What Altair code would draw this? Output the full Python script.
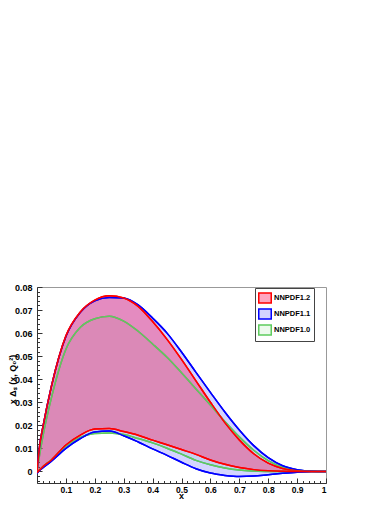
import altair as alt
import pandas as pd

# ---- data ----
x_vals = [0.0, 0.01, 0.02, 0.05, 0.1, 0.15, 0.2, 0.25, 0.3, 0.35, 0.4, 0.45,
          0.5, 0.55, 0.6, 0.65, 0.7, 0.75, 0.8, 0.85, 0.9, 0.95, 1.0]

red_hi = [0.0, 0.012, 0.019, 0.037, 0.0588, 0.0692, 0.0743, 0.0762, 0.0752, 0.0716, 0.0650, 0.0573,
          0.0486, 0.0393, 0.0300, 0.0212, 0.0137, 0.0077, 0.0036, 0.0013, 0.0003, 0.0, 0.0]
red_lo = [-0.0005, 0.0008, 0.0020, 0.0050, 0.0115, 0.0158, 0.0184, 0.0186, 0.0173, 0.0157, 0.0136, 0.0116,
          0.0095, 0.0074, 0.0050, 0.0031, 0.0017, 0.0008, 0.0003, 0.0001, 0.0, 0.0, 0.0]

blue_hi = [0.0, 0.012, 0.019, 0.037, 0.0585, 0.0690, 0.0740, 0.0755, 0.0752, 0.0722, 0.0665, 0.0600,
           0.0518, 0.0430, 0.0343, 0.0258, 0.0180, 0.0112, 0.0060, 0.0025, 0.0008, 0.0001, 0.0]
blue_lo = [-0.0008, 0.0005, 0.0015, 0.0045, 0.0100, 0.0143, 0.0171, 0.0175, 0.0155, 0.0128, 0.0098, 0.0070,
           0.0040, 0.0012, -0.0007, -0.0017, -0.0022, -0.0020, -0.0014, -0.0008, -0.0003, 0.0, 0.0]

green_hi = [0.0, 0.008, 0.015, 0.032, 0.053, 0.0625, 0.0662, 0.0673, 0.0652, 0.0608, 0.0553, 0.0495,
            0.0428, 0.0358, 0.0288, 0.0217, 0.0150, 0.0092, 0.0047, 0.0018, 0.0005, 0.0001, 0.0]
green_lo = [-0.0005, 0.0008, 0.0020, 0.0050, 0.0110, 0.0148, 0.0165, 0.0167, 0.0160, 0.0143, 0.0124, 0.0101,
            0.0075, 0.0048, 0.0029, 0.0015, 0.0006, 0.0002, 0.0, 0.0, 0.0, 0.0, 0.0]

sets = ["NNPDF1.2", "NNPDF1.1", "NNPDF1.0"]
line_colors = ["#ff0000", "#0000ff", "#5ecb5e"]
fill_colors = ["rgba(255,20,90,0.38)", "rgba(0,0,255,0.17)", "rgba(0,190,0,0.07)"]

x_major = [0.1, 0.2, 0.3, 0.4, 0.5, 0.6, 0.7, 0.8, 0.9, 1.0]
x_minor = [round(i * 0.02, 2) for i in range(1, 50) if i % 5 != 0]
y_major = [0.0, 0.01, 0.02, 0.03, 0.04, 0.05, 0.06, 0.07, 0.08]
y_minor = [round(i * 0.002, 3) for i in range(-2, 40) if i % 5 != 0]

rows = []
for name, hi, lo in [("NNPDF1.0", green_hi, green_lo),
                     ("NNPDF1.1", blue_hi, blue_lo),
                     ("NNPDF1.2", red_hi, red_lo)]:
    for xv, h, l in zip(x_vals, hi, lo):
        rows.append({"x": xv, "set": name, "hi": h, "lo": l})
df = pd.DataFrame(rows)

FONT = "Liberation Sans"
xs = alt.Scale(domain=[0, 1], nice=False, zero=False)
ys = alt.Scale(domain=[-0.005, 0.08], nice=False, zero=False)
fill_scale = alt.Scale(domain=sets, range=fill_colors)
stroke_scale = alt.Scale(domain=sets, range=line_colors)

nbsp = "\u00a0" * 10
leg = alt.Legend(
    title=None, orient="none", legendX=218, legendY=1,
    symbolType="M-1,-0.8H1V0.8H-1Z", symbolSize=156, symbolStrokeWidth=1.5,
    labelFont=FONT, labelFontWeight="bold", labelFontSize=7.5, labelColor="black",
    labelOffset=2, padding=3, rowPadding=0,
    strokeColor="#444", fillColor="white",
    labelExpr="datum.label + '" + nbsp + "'",
)

base = alt.Chart(df)

areas = base.mark_area(interpolate="monotone", strokeWidth=1.5, clip=True).encode(
    x=alt.X("x:Q", scale=xs, axis=alt.Axis(
        orient="bottom", values=x_major, format="~g", ticks=False, labelPadding=2,
        labelFontSize=8.5,
        title="x", titleX=144, titleY=15, titleBaseline="alphabetic", titleAlign="center")),
    y=alt.Y("hi:Q", scale=ys, axis=alt.Axis(
        orient="left", values=y_major, format="~g", ticks=False, labelPadding=5,
        title="x Δₛ (x, Q₀²)", titleX=-25, titleY=92, titleAngle=270,
        titleBaseline="middle", titleAlign="center")),
    y2="lo:Q",
    fill=alt.Fill("set:N", scale=fill_scale, legend=leg),
    stroke=alt.Stroke("set:N", scale=stroke_scale, legend=leg),
)

upper = base.mark_line(interpolate="monotone", strokeWidth=1.5, clip=True).encode(
    x=alt.X("x:Q", scale=xs, axis=alt.Axis(
        orient="bottom", values=x_major, labels=False, domain=False, title=None,
        tickSize=alt.ExprRef("-5"))),
    y=alt.Y("hi:Q", scale=ys, axis=alt.Axis(
        orient="left", values=y_major, labels=False, domain=False, title=None,
        tickSize=alt.ExprRef("-5"))),
    stroke=alt.Stroke("set:N", scale=stroke_scale, legend=None),
)

lower = base.mark_line(interpolate="monotone", strokeWidth=1.5, clip=True).encode(
    x=alt.X("x:Q", scale=xs, axis=alt.Axis(
        orient="bottom", values=x_minor, labels=False, domain=False, title=None,
        tickSize=alt.ExprRef("-2.5"))),
    y=alt.Y("lo:Q", scale=ys, axis=alt.Axis(
        orient="left", values=y_minor, labels=False, domain=False, title=None,
        tickSize=alt.ExprRef("-2.5"))),
    stroke=alt.Stroke("set:N", scale=stroke_scale, legend=None),
)

chart = alt.layer(areas, upper, lower).resolve_axis(
    x="independent", y="independent"
).properties(
    width=289, height=196,
    autosize=alt.AutoSizeParams(type="none"),
    padding={"left": 29, "top": 279, "right": 50, "bottom": 17},
    background="white",
).configure_view(
    stroke="#999", strokeWidth=1
).configure_axis(
    grid=False, labelFont=FONT, labelFontWeight="bold", labelFontSize=9,
    labelColor="black", titleFont=FONT, titleFontWeight="bold", titleFontSize=9,
    titleColor="black", domainColor="#333", domainWidth=1, tickColor="#333", tickWidth=1,
    labelOverlap=False,
)

chart.save("out.html", embed_options={"renderer": "svg", "actions": False})
